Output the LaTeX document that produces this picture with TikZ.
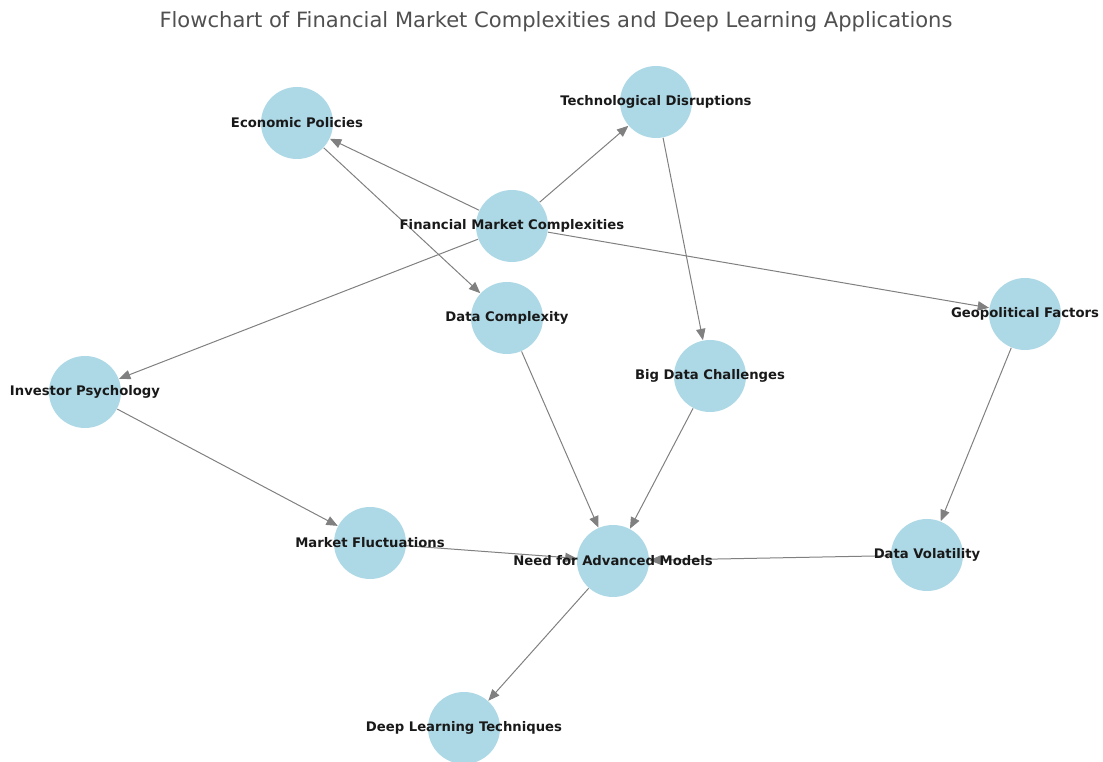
\documentclass[tikz,border=0pt]{standalone}
\usepackage{fontspec}
\setmainfont{DejaVu Sans}
\usetikzlibrary{arrows.meta}
\definecolor{nodeblue}{RGB}{173,216,230}
\definecolor{edgegray}{RGB}{128,128,128}
\definecolor{titlegray}{RGB}{80,80,80}
\begin{document}
\begin{tikzpicture}[x=.75pt,y=-.75pt,line width=.75pt,
  bubble/.style={circle,fill=nodeblue,inner sep=0pt,minimum size=54pt},
  tag/.style={font=\bfseries\fontsize{9.9}{11}\selectfont,text=black!90},
  link/.style={draw=edgegray,-{Triangle[length=8.5pt,width=7pt]}}]
  \useasboundingbox (0,0) rectangle (1103,762);
  \node[font=\fontsize{15.8}{18}\selectfont,text=titlegray] (title) at (556,22)
    {Flowchart of Financial Market Complexities and Deep Learning Applications};
  % the circles go first, the arrows over them, the labels last
  \node[bubble] (fmc) at (512,226) {};
  \node[bubble] (econ) at (297,123) {};
  \node[bubble] (tech) at (656,102) {};
  \node[bubble] (datacx) at (507,318) {};
  \node[bubble] (geo) at (1025,314) {};
  \node[bubble] (bigdata) at (710,376) {};
  \node[bubble] (psych) at (85,392) {};
  \node[bubble] (fluct) at (370,543) {};
  \node[bubble] (need) at (613,561) {};
  \node[bubble] (vol) at (927,555) {};
  \node[bubble] (deep) at (464,728) {};
  \draw[link] (fmc) -- (econ);
  \draw[link] (fmc) -- (tech);
  \draw[link] (fmc) -- (geo);
  \draw[link] (fmc) -- (psych);
  \draw[link] (econ) -- (datacx);
  \draw[link] (tech) -- (bigdata);
  \draw[link] (datacx) -- (need);
  \draw[link] (bigdata) -- (need);
  \draw[link] (geo) -- (vol);
  \draw[link] (psych) -- (fluct);
  \draw[link] (fluct) -- (need);
  \draw[link] (vol) -- (need);
  \draw[link] (need) -- (deep);
  \node[tag] (fmc-t) at (fmc) {Financial Market Complexities};
  \node[tag] (econ-t) at (econ) {Economic Policies};
  \node[tag] (tech-t) at (tech) {Technological Disruptions};
  \node[tag] (datacx-t) at (datacx) {Data Complexity};
  \node[tag] (geo-t) at (geo) {Geopolitical Factors};
  \node[tag] (bigdata-t) at (bigdata) {Big Data Challenges};
  \node[tag] (psych-t) at (psych) {Investor Psychology};
  \node[tag] (fluct-t) at (fluct) {Market Fluctuations};
  \node[tag] (need-t) at (need) {Need for Advanced Models};
  \node[tag] (vol-t) at (vol) {Data Volatility};
  \node[tag] (deep-t) at (deep) {Deep Learning Techniques};
\end{tikzpicture}
\end{document}
